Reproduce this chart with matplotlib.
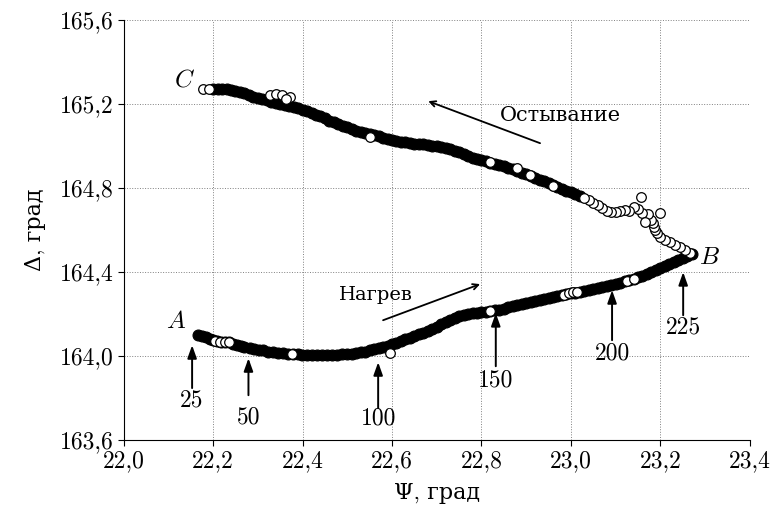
#!/usr/bin/env python3
"""Эллипсометрия: петля Psi-Delta при нагреве и остывании."""

import matplotlib
matplotlib.use("Agg")
import matplotlib.pyplot as plt

plt.rcParams["font.family"] = ["cmr10", "DejaVu Serif"]
plt.rcParams["mathtext.fontset"] = "cm"
plt.rcParams["axes.formatter.use_mathtext"] = True

# нагрев: A -> B (плотная полоса точек)
heat_psi = [
    22.167, 22.175, 22.183, 22.192, 22.200, 22.209, 22.218, 22.227, 22.236, 22.245,
    22.254, 22.262, 22.270, 22.283, 22.292, 22.302, 22.312, 22.322, 22.333, 22.345,
    22.357, 22.368, 22.378, 22.389, 22.399, 22.410, 22.421, 22.432, 22.443, 22.455,
    22.466, 22.477, 22.488, 22.499, 22.510, 22.520, 22.530, 22.540, 22.550, 22.560,
    22.570, 22.580, 22.590, 22.600, 22.610, 22.620, 22.630, 22.640, 22.650, 22.660,
    22.670, 22.680, 22.690, 22.700, 22.710, 22.720, 22.730, 22.740, 22.750, 22.760,
    22.770, 22.780, 22.790, 22.800, 22.810, 22.820, 22.830, 22.840, 22.850, 22.860,
    22.870, 22.880, 22.890, 22.900, 22.910, 22.920, 22.930, 22.940, 22.950, 22.960,
    22.970, 22.980, 22.990, 23.000, 23.010, 23.020, 23.030, 23.040, 23.050, 23.060,
    23.070, 23.080, 23.090, 23.100, 23.110, 23.120, 23.130, 23.140, 23.150, 23.160,
    23.170, 23.180, 23.190, 23.200, 23.210, 23.220, 23.230, 23.240, 23.250, 23.260,
    23.270,
]
heat_delta = [
    164.100, 164.095, 164.090, 164.083, 164.078, 164.070, 164.066, 164.068, 164.066, 164.060,
    164.052, 164.047, 164.042, 164.038, 164.033, 164.030, 164.027, 164.022, 164.020, 164.016,
    164.014, 164.012, 164.010, 164.008, 164.006, 164.005, 164.005, 164.004, 164.004, 164.005,
    164.005, 164.006, 164.008, 164.010, 164.012, 164.015, 164.018, 164.022, 164.027, 164.032,
    164.037, 164.043, 164.050, 164.057, 164.064, 164.072, 164.080, 164.088, 164.096, 164.104,
    164.111, 164.120, 164.130, 164.140, 164.152, 164.162, 164.170, 164.180, 164.190, 164.196,
    164.200, 164.204, 164.207, 164.210, 164.212, 164.215, 164.218, 164.221, 164.226, 164.232,
    164.238, 164.243, 164.248, 164.253, 164.258, 164.263, 164.268, 164.272, 164.276, 164.280,
    164.285, 164.290, 164.296, 164.300, 164.303, 164.306, 164.309, 164.314, 164.320, 164.325,
    164.330, 164.335, 164.340, 164.345, 164.350, 164.356, 164.362, 164.368, 164.375, 164.383,
    164.392, 164.400, 164.410, 164.420, 164.428, 164.437, 164.447, 164.458, 164.468, 164.478,
    164.486,
]
# отдельно различимые точки на ветви нагрева
heat_open_psi = [22.205, 22.215, 22.226, 22.236, 22.377, 22.596, 22.820,
                 22.985, 22.995, 23.005, 23.014, 23.126, 23.140]
heat_open_delta = [164.070, 164.067, 164.068, 164.066, 164.008, 164.014, 164.216,
                   164.292, 164.300, 164.305, 164.306, 164.360, 164.366]

# остывание: B -> C
cool_psi = [
    23.267, 23.255, 23.245, 23.233, 23.222, 23.210, 23.200, 23.192, 23.188, 23.185,
    23.184, 23.178, 23.173, 23.160, 23.150, 23.140, 23.130, 23.120, 23.110, 23.100,
    23.090, 23.080, 23.070, 23.060, 23.050, 23.040, 23.030, 23.020, 23.010, 23.000,
    22.990, 22.980, 22.970, 22.960, 22.950, 22.940, 22.930, 22.920, 22.910, 22.900,
    22.890, 22.880, 22.870, 22.860, 22.850, 22.840, 22.830, 22.820, 22.810, 22.800,
    22.790, 22.780, 22.770, 22.760, 22.750, 22.740, 22.730, 22.720, 22.710, 22.700,
    22.690, 22.680, 22.670, 22.660, 22.650, 22.640, 22.630, 22.620, 22.610, 22.600,
    22.590, 22.580, 22.570, 22.560, 22.550, 22.540, 22.530, 22.520, 22.510, 22.500,
    22.490, 22.480, 22.470, 22.460, 22.450, 22.440, 22.430, 22.420, 22.410, 22.400,
    22.390, 22.380, 22.370, 22.360, 22.350, 22.340, 22.330, 22.320, 22.310, 22.300,
    22.290, 22.280, 22.270, 22.260, 22.250, 22.240, 22.230, 22.220, 22.210, 22.200,
    23.157, 23.200, 23.165,
]
cool_delta = [
    164.490, 164.505, 164.519, 164.530, 164.543, 164.555, 164.567, 164.585, 164.600, 164.617,
    164.633, 164.650, 164.675, 164.680, 164.700, 164.710, 164.690, 164.695, 164.690, 164.686,
    164.684, 164.690, 164.705, 164.718, 164.728, 164.745, 164.755, 164.763, 164.772, 164.780,
    164.788, 164.795, 164.805, 164.815, 164.825, 164.832, 164.838, 164.848, 164.858, 164.866,
    164.873, 164.882, 164.890, 164.898, 164.905, 164.911, 164.917, 164.922, 164.927, 164.932,
    164.938, 164.945, 164.953, 164.962, 164.970, 164.978, 164.985, 164.992, 164.997, 165.000,
    165.003, 165.006, 165.008, 165.010, 165.012, 165.015, 165.018, 165.022, 165.026, 165.030,
    165.035, 165.040, 165.046, 165.052, 165.057, 165.062, 165.067, 165.072, 165.080, 165.090,
    165.098, 165.106, 165.114, 165.122, 165.132, 165.142, 165.150, 165.158, 165.165, 165.172,
    165.180, 165.186, 165.192, 165.197, 165.202, 165.207, 165.212, 165.218, 165.223, 165.228,
    165.233, 165.244, 165.255, 165.260, 165.264, 165.267, 165.270, 165.271, 165.271, 165.271,
    164.757, 164.680, 164.640,
]
# отдельно различимые точки на ветви остывания
cool_open_psi = [22.178, 22.190, 22.328, 22.340, 22.355, 22.373, 22.362,
                 22.551, 22.819, 22.879, 22.909, 22.960]
cool_open_delta = [165.271, 165.271, 165.243, 165.250, 165.245, 165.232, 165.225,
                   165.043, 164.924, 164.895, 164.862, 164.808]

# температурные метки
temp_labels = ["25", "50", "100", "150", "200", "225"]
temp_psi = [22.153, 22.279, 22.569, 22.832, 23.092, 23.251]
temp_tip = [164.052, 163.990, 163.971, 164.205, 164.314, 164.400]
temp_tail = [163.848, 163.814, 163.752, 163.952, 164.076, 164.195]
temp_text = [163.790, 163.710, 163.705, 163.886, 164.014, 164.138]

x_ticks = [22.0, 22.2, 22.4, 22.6, 22.8, 23.0, 23.2, 23.4]
y_ticks = [163.6, 164.0, 164.4, 164.8, 165.2, 165.6]

FS = 17
PSI_SPARSE = 23.02  # дальше к B точки остывания идут редко

fig = plt.figure(figsize=(7.73, 5.16), dpi=100)
ax = fig.add_axes([0.16, 0.147, 0.81, 0.814])

dense_kw = dict(s=62, facecolors="black", edgecolors="black", linewidths=0.8, zorder=3)
open_kw = dict(s=48, facecolors="white", edgecolors="black", linewidths=0.9, zorder=4)

ax.scatter(heat_psi, heat_delta, **dense_kw)
cd = [(p, d) for p, d in zip(cool_psi, cool_delta) if p <= PSI_SPARSE]
cs = [(p, d) for p, d in zip(cool_psi, cool_delta) if p > PSI_SPARSE]
ax.scatter([p for p, _ in cd], [d for _, d in cd], **dense_kw)
ax.scatter([p for p, _ in cs], [d for _, d in cs], **open_kw)
ax.scatter(heat_open_psi, heat_open_delta, **open_kw)
ax.scatter(cool_open_psi, cool_open_delta, **open_kw)

for lab, x, tip, tail, ty in zip(temp_labels, temp_psi, temp_tip, temp_tail, temp_text):
    ax.annotate("", xy=(x, tip), xytext=(x, tail),
                arrowprops=dict(arrowstyle="-|>,head_width=0.25,head_length=0.7",
                                lw=1.4, color="black", mutation_scale=11,
                                shrinkA=0, shrinkB=0), zorder=5)
    ax.text(x, ty, lab, ha="center", va="center", fontsize=FS)

ax.text(22.118, 164.162, "$A$", fontsize=FS + 1, ha="center", va="center")
ax.text(23.31, 164.467, "$B$", fontsize=FS + 1, ha="center", va="center")
ax.text(22.137, 165.314, "$C$", fontsize=FS + 1, ha="center", va="center")

ax.annotate("", xy=(22.797, 164.343), xytext=(22.58, 164.171),
            arrowprops=dict(arrowstyle="->", lw=1.3, color="black", shrinkA=0, shrinkB=0))
ax.text(22.563, 164.29, "Нагрев", fontsize=14, ha="center", va="center")
ax.annotate("", xy=(22.681, 165.214), xytext=(22.931, 165.014),
            arrowprops=dict(arrowstyle="->", lw=1.3, color="black", shrinkA=0, shrinkB=0))
ax.text(22.976, 165.143, "Остывание", fontsize=15, ha="center", va="center")

ax.set_xlim(22.0, 23.4)
ax.set_ylim(163.6, 165.6)
ax.set_xticks(x_ticks)
ax.set_xticklabels([f"{v:.1f}".replace(".", ",") for v in x_ticks], fontsize=FS)
ax.set_yticks(y_ticks)
ax.set_yticklabels([f"{v:.1f}".replace(".", ",") for v in y_ticks], fontsize=FS)
ax.tick_params(direction="out", length=4, width=0.8, pad=3)
ax.grid(True, linestyle=":", color="gray", linewidth=0.7)
ax.spines["top"].set_visible(False)
ax.spines["right"].set_visible(False)
ax.set_xlabel("Ψ, град", fontsize=16, labelpad=8)
ax.set_ylabel("Δ, град", fontsize=16, labelpad=10)

fig.savefig("out.png", dpi=100)
